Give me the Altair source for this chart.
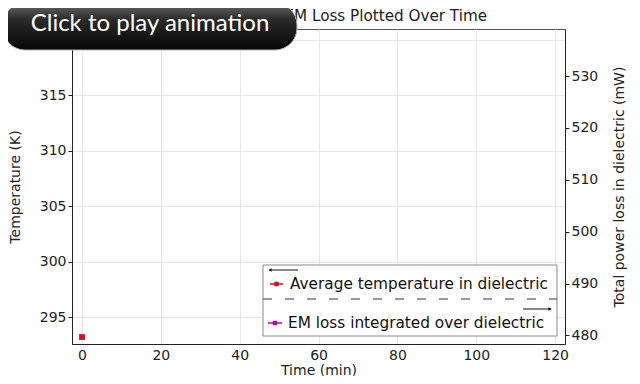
import altair as alt
import pandas as pd

# ---- data ----
time_min = [0]
avg_temp_K = [293.2]
em_time_min = [0]
em_loss_mW = [float("nan")]  # not yet plotted in this frame

x_ticks = [0, 20, 40, 60, 80, 100, 120]
temp_ticks = [295, 300, 305, 310, 315, 320]
power_ticks = [480, 490, 500, 510, 520, 530]

x_domain = [-2.54, 122.5]
temp_domain = [292.57, 320.99]
power_domain = [478.36, 539.06]

title_text = "Temperature and EM Loss Plotted Over Time"
legend_labels = ["Average temperature in dielectric", "EM loss integrated over dielectric"]
series_colors = ["#d0112b", "#a0179f"]
button_text = "Click to play animation"

FONT = "DejaVu Sans"
W, H = 493, 315

temp_df = pd.DataFrame({"time": time_min, "temp": avg_temp_K})
em_df = pd.DataFrame({"time": em_time_min, "loss": em_loss_mW})
one = pd.DataFrame({"k": [0]})

x_enc = alt.X(
    "time:Q",
    scale=alt.Scale(domain=x_domain, nice=False, zero=False),
    axis=alt.Axis(values=x_ticks, title="Time (min)", grid=True, ticks=False,
                  labelPadding=4, titleY=30, titleBaseline="alphabetic"),
)

temp_layer = alt.Chart(temp_df).mark_square(size=34, color=series_colors[0], opacity=1).encode(
    x=x_enc,
    y=alt.Y("temp:Q", scale=alt.Scale(domain=temp_domain, nice=False, zero=False),
            axis=alt.Axis(orient="left", values=temp_ticks, title="Temperature (K)", grid=True,
                          tickSize=4, labelPadding=2, titlePadding=17)),
)

em_layer = alt.Chart(em_df).mark_square(size=34, color=series_colors[1], opacity=1).encode(
    x=x_enc,
    y=alt.Y("loss:Q", scale=alt.Scale(domain=power_domain, nice=False, zero=False),
            axis=alt.Axis(orient="right", values=power_ticks, grid=False,
                          title="Total power loss in dielectric (mW)", titleAngle=270,
                          tickSize=4, labelPadding=2, titlePadding=29)),
)


def rule(x1, x2, y, **kw):
    return alt.Chart(one).mark_rule(**kw).encode(x=alt.value(x1), x2=alt.value(x2), y=alt.value(y))


def txt(s, x, y, **kw):
    return alt.Chart(one).mark_text(text=s, **kw).encode(x=alt.value(x), y=alt.value(y))


def pt(x, y, **kw):
    return alt.Chart(one).mark_point(**kw).encode(x=alt.value(x), y=alt.value(y))


# legend box
legend_box = alt.Chart(one).mark_rect(fill="white", stroke="#8a8a8a", strokeWidth=1).encode(
    x=alt.value(191), x2=alt.value(485), y=alt.value(236), y2=alt.value(307)
)
arrow_left = rule(197, 226, 241, color="#111", strokeWidth=1)
arrow_left_head = pt(198, 241, shape="triangle-left", size=14, filled=True, color="#111", opacity=1)
sym1_line = rule(198, 211, 255, color=series_colors[0], strokeWidth=1.5)
sym1_pt = pt(204.5, 255, shape="square", size=20, filled=True, color=series_colors[0], opacity=1)
text1 = txt(legend_labels[0], 218, 255, align="left", baseline="middle", font=FONT, fontSize=15.3, color="#111")
dash = rule(191, 485, 270, color="#333", strokeWidth=1, strokeDash=[9, 13])
arrow_right = rule(451, 479, 280, color="#111", strokeWidth=1)
arrow_right_head = pt(478, 280, shape="triangle-right", size=14, filled=True, color="#111", opacity=1)
sym2_line = rule(196, 210, 294, color=series_colors[1], strokeWidth=1.5)
sym2_pt = pt(203, 294, shape="square", size=20, filled=True, color=series_colors[1], opacity=1)
text2 = txt(legend_labels[1], 216, 294, align="left", baseline="middle", font=FONT, fontSize=15.3, color="#111")

# title as text (under the overlay button)
title = txt(title_text, 246.5, -8, align="center", baseline="alphabetic", font=FONT, fontSize=15.2, color="#222")

# "Click to play animation" overlay button
button = alt.Chart(one).mark_rect(
    cornerRadius=22,
    fill=alt.Gradient(
        gradient="linear",
        stops=[alt.GradientStop(color="#6a6a6a", offset=0),
               alt.GradientStop(color="#2a2a2a", offset=0.35),
               alt.GradientStop(color="#050505", offset=1)],
        x1=0, x2=0, y1=0, y2=1,
    ),
    stroke="#b5b5b5", strokeWidth=1,
).encode(x=alt.value(-69), x2=alt.value(225), y=alt.value(-26), y2=alt.value(21))
button_label = txt(button_text, 78, -5, align="center", baseline="middle", font="Lato", fontSize=24, color="white")

chart = alt.layer(
    temp_layer, em_layer,
    legend_box, arrow_left, arrow_left_head, sym1_line, sym1_pt, text1,
    dash, arrow_right, arrow_right_head, sym2_line, sym2_pt, text2,
    title, button, button_label,
).resolve_scale(y="independent").properties(
    width=W, height=H,
    autosize=alt.AutoSizeParams(type="none"),
    padding={"left": 64, "top": 21, "right": 67, "bottom": 32},
).configure_view(
    stroke="#555555", strokeWidth=1
).configure_axis(
    labelFont=FONT, labelFontSize=14, labelColor="#222",
    titleFont=FONT, titleFontSize=14, titleFontWeight="normal", titleColor="#222",
    domainColor="#222", tickColor="#222", gridColor="#e6e6e6",
)

chart.save("out.html", embed_options={"renderer": "svg", "actions": False})
